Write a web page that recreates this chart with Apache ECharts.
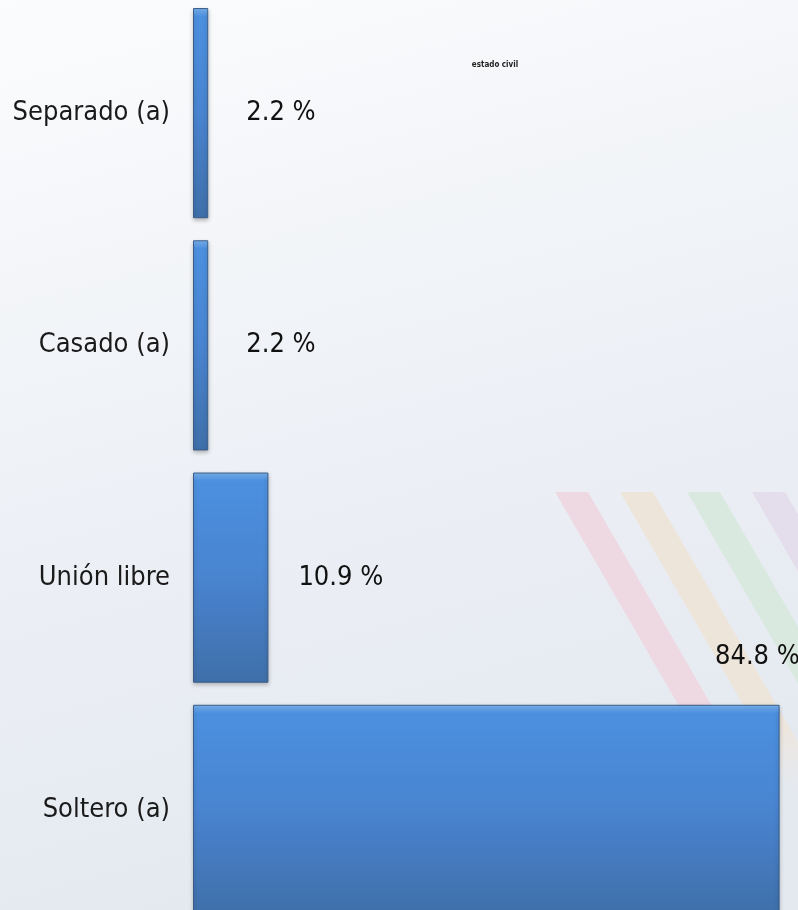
<!DOCTYPE html>
<html>
<head>
<meta charset="utf-8">
<script src="https://cdn.jsdelivr.net/npm/echarts@6/dist/echarts.min.js"></script>
<style>
html, body { margin: 0; padding: 0; }
#main { width: 798px; height: 910px; }
</style>
</head>
<body>
<div id="main"></div>
<script>
// datos: estado civil (de abajo hacia arriba)
var categorias = ['Soltero (a)', 'Unión libre', 'Casado (a)', 'Separado (a)'];
var porcentajes = [84.8, 10.9, 2.2, 2.2];

var fuente = "'Liberation Sans Narrow', 'DejaVu Sans Condensed', 'Liberation Sans', sans-serif";

var chart = echarts.init(document.getElementById('main'));

// relleno azul de las barras
var azul = new echarts.graphic.LinearGradient(0, 0, 0, 1, [
    { offset: 0, color: '#7db6f2' },
    { offset: 0.04, color: '#4b90df' },
    { offset: 0.5, color: '#4984d0' },
    { offset: 1, color: '#3f6fa9' }
]);

// franjas diagonales del fondo (decoracion)
function franja(x0, color) {
    return {
        type: 'polygon',
        z: -10,
        silent: true,
        shape: { points: [[x0, 492], [x0 + 33, 492], [x0 + 33 + 190, 820], [x0 + 190, 820]] },
        style: {
            fill: new echarts.graphic.LinearGradient(0, 0, 0, 1, [
                { offset: 0, color: color },
                { offset: 0.7, color: color },
                { offset: 1, color: 'rgba(230,235,242,0)' }
            ])
        }
    };
}

var datos = porcentajes.map(function (v, i) {
    var item = { value: v };
    if (i === 0) {
        // etiqueta del 84.8 va arriba a la derecha
        item.label = { position: [522, -48], align: 'left', verticalAlign: 'middle' };
    } else if (i === 1) {
        item.label = { distance: 30 };
    }
    return item;
});

var option = {
    backgroundColor: new echarts.graphic.LinearGradient(0, 0, 0.3, 1, [
        { offset: 0, color: '#fbfcfd' },
        { offset: 0.5, color: '#eef1f6' },
        { offset: 1, color: '#e4e9f0' }
    ]),
    title: {
        text: 'estado civil',
        left: 490,
        top: 56,
        textAlign: 'center',
        textStyle: { fontSize: 8, fontWeight: 'bold', color: '#222', fontFamily: fuente }
    },
    graphic: [
        franja(555, '#eed9e3'),
        franja(620, '#eee5da'),
        franja(687, '#dae9e0'),
        franja(752, '#e4ddeb')
    ],
    grid: {
        left: 193,
        top: -3,
        width: 588,
        height: 929,
        outerBoundsMode: 'none',
        containLabel: false
    },
    xAxis: {
        type: 'value',
        min: 0,
        max: 85,
        show: false
    },
    yAxis: {
        type: 'category',
        data: categorias,
        axisLine: { show: false },
        axisTick: { show: false },
        axisLabel: {
            margin: 23,
            fontSize: 27,
            color: '#1a1a1a',
            fontFamily: fuente
        }
    },
    series: [{
        type: 'bar',
        data: datos,
        barCategoryGap: '9.5%',
        itemStyle: {
            color: azul,
            borderColor: '#3a5d88',
            borderWidth: 1,
            shadowColor: 'rgba(0,0,0,0.25)',
            shadowBlur: 4,
            shadowOffsetY: 2
        },
        label: {
            show: true,
            position: 'right',
            distance: 38,
            fontSize: 27,
            color: '#111',
            fontFamily: fuente,
            formatter: '{c} %'
        }
    }]
};

chart.setOption(option);
</script>
</body>
</html>
